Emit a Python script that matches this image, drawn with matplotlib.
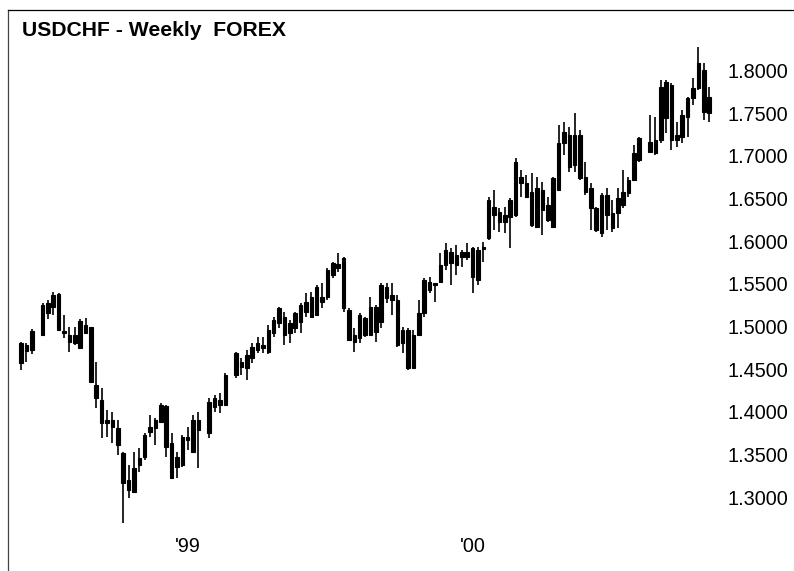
import numpy as np
import pandas as pd
import matplotlib
matplotlib.use('Agg')
import matplotlib.pyplot as plt
import matplotlib.transforms as mtransforms

nan = np.nan

# weekly bars from 29 May 1998, nan = week with no bar
opens = [1.4595, 1.4735, 1.4747, nan, 1.4923, 1.5181, 1.5392, 1.5403, 1.4964, 1.4923,
         1.4829, 1.4770, 1.5040, 1.5017, 1.4337, 1.4161, 1.3926, 1.3926, 1.3833, 1.3540,
         1.3106, 1.3082, 1.3399, 1.3493, 1.3786, 1.3833, 1.4102, 1.4090, 1.3657, 1.3375,
         1.3399, 1.3692, 1.3551, 1.3809, nan, 1.3774, 1.4079, 1.4102, 1.4102, nan,
         1.4454, 1.4548, 1.4536, 1.4653, 1.4747, 1.4770, 1.4724, 1.4946, 1.5239, 1.5134,
         1.4946, 1.5005, 1.5075, 1.5192, 1.5134, 1.5157, 1.5310, 1.5368, 1.5626, 1.5755,
         1.5826, 1.5216, 1.4841, 1.4888, 1.4923, 1.4923, 1.4958, 1.5075, 1.5486, 1.5392,
         1.5333, 1.4981, 1.4981, 1.4536, 1.4923, 1.5181, 1.5450, 1.5509, 1.5544, 1.5743,
         1.5896, 1.5743, 1.5837, 1.5896, 1.5943, 1.5568, 1.5931, 1.6060, 1.6423, 1.6365,
         1.6248, 1.6306, 1.6330, 1.6775, 1.6705, 1.6212, 1.6189, 1.6623, 1.6271, 1.6189,
         1.6623, 1.7303, 1.6892, 1.7267, 1.7267, 1.6775, 1.6646, 1.6154, 1.6119, 1.6564,
         1.6177, 1.6353, 1.6447, 1.6587, 1.6740, 1.6974, nan, 1.7068, 1.7056, 1.7209,
         1.7889, 1.7854, 1.7209, 1.7244, 1.7478, 1.7701, 1.8111, 1.8029, 1.7713]
highs = [1.4841, 1.4829, 1.4993, nan, 1.5298, 1.5333, 1.5427, 1.5415, 1.5157, 1.5017,
         1.5017, 1.5110, 1.5122, 1.5017, 1.4606, 1.4301, 1.4044, 1.4020, 1.3926, 1.3551,
         1.3399, 1.3551, 1.3598, 1.3774, 1.3985, 1.3950, 1.4126, 1.4102, 1.3774, 1.3551,
         1.3751, 1.3844, 1.3985, 1.4020, nan, 1.4184, 1.4219, 1.4243, 1.4477, nan,
         1.4724, 1.4653, 1.4747, 1.4829, 1.4899, 1.4899, 1.5040, 1.5134, 1.5251, 1.5192,
         1.5099, 1.5192, 1.5298, 1.5415, 1.5427, 1.5509, 1.5532, 1.5708, 1.5779, 1.5884,
         1.5837, 1.5239, 1.5005, 1.5181, 1.5134, 1.5368, 1.5274, 1.5532, 1.5532, 1.5532,
         1.5392, 1.5017, 1.5005, 1.4981, 1.5333, 1.5591, 1.5603, 1.5532, 1.5884, 1.6001,
         1.5943, 1.5978, 1.5919, 1.6001, 1.5954, 1.5954, 1.6013, 1.6541, 1.6623, 1.6412,
         1.6423, 1.6529, 1.6998, 1.6857, 1.6799, 1.6822, 1.6775, 1.6716, 1.6541, 1.6775,
         1.7385, 1.7420, 1.7361, 1.7525, 1.7326, 1.6951, 1.6705, 1.6423, 1.6587, 1.6646,
         1.6505, 1.6646, 1.6857, 1.6775, 1.7150, 1.7244, nan, 1.7502, 1.7478, 1.7912,
         1.7912, 1.7877, 1.7420, 1.7560, 1.7713, 1.7936, 1.8299, 1.8111, 1.7830]
lows = [1.4513, 1.4606, 1.4700, nan, 1.4923, 1.5110, 1.5157, 1.4981, 1.4888, 1.4724,
        1.4806, 1.4770, 1.4946, 1.4360, 1.4067, 1.3715, 1.3727, 1.3657, 1.3516, 1.2719,
        1.3012, 1.3071, 1.3317, 1.3457, 1.3727, 1.3633, 1.3891, 1.3493, 1.3246, 1.3246,
        1.3375, 1.3575, 1.3540, 1.3364, nan, 1.3715, 1.4020, 1.4008, 1.4102, nan,
        1.4419, 1.4454, 1.4395, 1.4595, 1.4712, 1.4712, 1.4700, 1.4899, 1.5005, 1.4806,
        1.4829, 1.4946, 1.4946, 1.5134, 1.5134, 1.5157, 1.5239, 1.5333, 1.5591, 1.5661,
        1.5192, 1.4864, 1.4724, 1.4829, 1.4899, 1.4923, 1.4841, 1.5005, 1.5298, 1.5157,
        1.4782, 1.4712, 1.4513, 1.4536, 1.4923, 1.5134, 1.5415, 1.5310, 1.5532, 1.5685,
        1.5509, 1.5626, 1.5720, 1.5802, 1.5415, 1.5509, 1.5779, 1.6037, 1.6154, 1.6130,
        1.6119, 1.5943, 1.6306, 1.6541, 1.6529, 1.6189, 1.6189, 1.6095, 1.6248, 1.6189,
        1.6623, 1.7033, 1.6834, 1.6834, 1.6740, 1.6564, 1.6154, 1.6130, 1.6072, 1.6154,
        1.6130, 1.6177, 1.6412, 1.6541, 1.6740, 1.6951, nan, 1.7056, 1.7033, 1.7174,
        1.7291, 1.7092, 1.7127, 1.7174, 1.7244, 1.7619, 1.7795, 1.7443, 1.7420]
closes = [1.4829, 1.4806, 1.4970, nan, 1.5274, 1.5298, 1.5251, 1.4981, 1.4946, 1.4841,
          1.4923, 1.5087, 1.4946, 1.4372, 1.4184, 1.3891, 1.3891, 1.3844, 1.3633, 1.3188,
          1.3223, 1.3364, 1.3481, 1.3751, 1.3844, 1.3926, 1.3903, 1.3610, 1.3246, 1.3493,
          1.3727, 1.3727, 1.3926, 1.3926, nan, 1.4137, 1.4184, 1.4161, 1.4454, nan,
          1.4712, 1.4606, 1.4688, 1.4782, 1.4829, 1.4806, 1.4981, 1.5099, 1.5064, 1.4923,
          1.5064, 1.5181, 1.5274, 1.5310, 1.5368, 1.5486, 1.5368, 1.5685, 1.5767, 1.5708,
          1.5239, 1.4864, 1.4923, 1.5157, 1.5122, 1.5251, 1.5251, 1.5509, 1.5357, 1.5333,
          1.4806, 1.4829, 1.4536, 1.4923, 1.5181, 1.5568, 1.5544, 1.5532, 1.5743, 1.5919,
          1.5767, 1.5861, 1.5896, 1.5837, 1.5603, 1.5919, 1.5954, 1.6505, 1.6330, 1.6248,
          1.6330, 1.6505, 1.6951, 1.6705, 1.6541, 1.6599, 1.6646, 1.6388, 1.6447, 1.6763,
          1.7174, 1.7174, 1.7267, 1.6916, 1.6763, 1.6599, 1.6412, 1.6412, 1.6564, 1.6330,
          1.6353, 1.6529, 1.6599, 1.6740, 1.7056, 1.7232, nan, 1.7185, 1.7209, 1.7830,
          1.7467, 1.7209, 1.7267, 1.7502, 1.7701, 1.7818, 1.7818, 1.7537, 1.7525]

price_ticks = [1.30, 1.35, 1.40, 1.45, 1.50, 1.55, 1.60, 1.65, 1.70, 1.75, 1.80]
title = "USDCHF - Weekly  FOREX"

weeks = pd.date_range("1998-05-29", periods=len(opens), freq="7D")
o = np.array(opens)
h = np.array(highs)
l = np.array(lows)
c = np.array(closes)
x = np.arange(len(o))
m = ~np.isnan(o)

fig = plt.figure(figsize=(7.94, 5.71), dpi=100)
ax = fig.add_axes([8 / 794, 0, 786 / 794, 561 / 571])
ax.set_xlim(-2.42, 143.79)
ax.set_ylim(1.2156, 1.8733)

body_lo = np.minimum(o, c)
body_hi = np.maximum(o, c)
ax.vlines(x[m], l[m], h[m], color='black', linewidth=1.2)
ax.bar(x[m], body_hi[m] - body_lo[m], bottom=body_lo[m], width=0.66,
       color='black', edgecolor='black', linewidth=0.8)

for s in ['right', 'bottom']:
    ax.spines[s].set_visible(False)
ax.spines['left'].set_color('#444444')
ax.spines['top'].set_color('black')
ax.spines['left'].set_linewidth(0.9)
ax.spines['top'].set_linewidth(0.9)
ax.set_xticks([])
ax.set_yticks([])

font = 'Liberation Sans'
ytrans = mtransforms.blended_transform_factory(ax.transAxes, ax.transData)
for p in price_ticks:
    ax.text(0.9148, p, f"{p:.4f}", transform=ytrans, ha='left', va='center',
            fontsize=14.3, family=font)

xtrans = mtransforms.blended_transform_factory(ax.transData, ax.transAxes)
for yr in [1999, 2000]:
    idx = np.where(weeks.year == yr)[0][0]
    ax.text(idx, 0.0428, "'" + str(yr)[2:], transform=xtrans, ha='center',
            va='center', fontsize=14.3, family=font)

ax.text(0.0174, 0.9626, title, transform=ax.transAxes, ha='left', va='center',
        fontsize=15.2, fontweight='bold', family=font)

fig.savefig('out.png', dpi=100)
